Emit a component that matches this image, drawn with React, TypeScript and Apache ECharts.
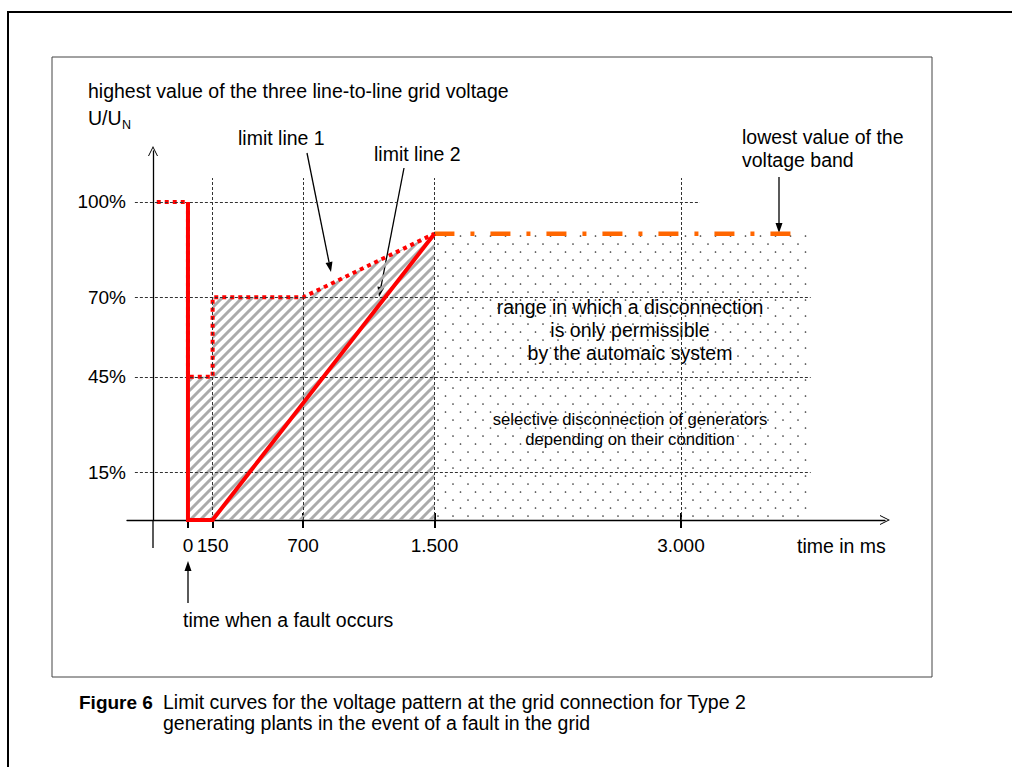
import React, { useEffect, useRef } from "react";
import * as echarts from "echarts";

// ---- data (time in ms, voltage in % of U_N) ----
const timeTicks = [0, 150, 700, 1500, 3000];
const voltageTicks = [15, 45, 70, 100];
const limitLine1: number[][] = [
  [-190, 100], [0, 100], [0, 45], [150, 45], [150, 70], [700, 70], [1500, 90],
];
const limitLine2: number[][] = [[0, 100], [0, 0], [150, 0], [1500, 90]];
const voltageBand: number[][] = [[1500, 90], [3725, 90]];
const automaticRange: number[][] = [[1500, 90], [3790, 90]];

const FONT = '"Liberation Sans", Arial, sans-serif';
const FS = 19.5;

function svgUrl(svg: string) {
  return "data:image/svg+xml;charset=utf-8," + encodeURIComponent(svg);
}

const hatchSvg =
  '<svg xmlns="http://www.w3.org/2000/svg" width="10" height="10">' +
  '<path d="M-5,5 L5,-5 M0,10 L10,0 M5,15 L15,5" stroke="#ababab" stroke-width="3"/></svg>';
const dotSvg =
  '<svg xmlns="http://www.w3.org/2000/svg" width="15" height="16">' +
  '<circle cx="3" cy="4" r="0.85" fill="#333"/><circle cx="10.5" cy="12" r="0.85" fill="#333"/></svg>';

function arrow(x1: number, y1: number, x2: number, y2: number, head = 10, half = 3.5) {
  const dx = x2 - x1, dy = y2 - y1;
  const L = Math.hypot(dx, dy);
  const ux = dx / L, uy = dy / L;
  const bx = x2 - ux * head, by = y2 - uy * head;
  const px = -uy, py = ux;
  return [
    { type: "line", silent: true, shape: { x1, y1, x2: bx, y2: by }, style: { stroke: "#000", lineWidth: 1.3 } },
    {
      type: "polygon", silent: true,
      shape: { points: [[x2, y2], [bx + px * half, by + py * half], [bx - px * half, by - py * half]] },
      style: { fill: "#000" },
    },
  ];
}

function txt(text: string, x: number, y: number, size = FS, align = "left", weight = "normal") {
  return {
    type: "text", silent: true,
    style: {
      text, x, y, fill: "#000",
      font: `${weight} ${size}px ${FONT}`,
      textAlign: align, textVerticalAlign: "middle",
      align, verticalAlign: "middle",
    },
  };
}

export default function App() {
  const ref = useRef<HTMLDivElement>(null);
  useEffect(() => {
    if (!ref.current) return;
    const chart = echarts.init(ref.current, null, { renderer: "svg" });

    const hatchData = limitLine1.filter(([t, v]) => t >= 0 && !(t === 0 && v === 100));
    const gridStyle = { color: "#333", width: 1, type: [3, 2] as any };
    const hLines = voltageTicks.map((v) => [
      { coord: [-323, v] },
      { coord: [v === 100 ? 3116 : 3790, v] },
    ]);
    const vLines = timeTicks.filter((t) => t > 0).map((t) => [
      { coord: [t, 0] },
      { coord: [t, 107.5] },
    ]);

    const chevron = "path://M0,10 L5,0 L10,10 L9,10 L5,2 L1,10 Z";
    const fmt = (v: number) =>
      v >= 1000 ? `${Math.floor(v / 1000)}.${String(v % 1000).padStart(3, "0")}` : String(v);

    const gridTop = 151, gridBottomPx = 520;

    chart.setOption({
      animation: false,
      textStyle: { fontFamily: FONT },
      grid: { left: 127, right: 127, top: gridTop, bottom: 767 - gridBottomPx, containLabel: false },
      xAxis: [
        {
          type: "value", min: -371, max: 4242,
          axisLine: { show: true, onZero: false, symbol: ["none", chevron], symbolSize: [11, 10], lineStyle: { color: "#000", width: 1.3 } },
          axisTick: { show: true, customValues: timeTicks, length: 8, lineStyle: { color: "#000", width: 2 } },
          axisLabel: {
            show: true, customValues: timeTicks, margin: 16, fontSize: 19, color: "#000", fontFamily: FONT,
            formatter: fmt,
          },
          splitLine: { show: false },
        },
        {
          type: "value", min: -371, max: 4242, position: "bottom",
          axisLine: { show: false, onZero: false },
          axisTick: { show: true, inside: true, customValues: timeTicks.filter((t) => t > 150), length: 7, lineStyle: { color: "#000", width: 2 } },
          axisLabel: { show: false },
          splitLine: { show: false },
        },
      ],
      yAxis: {
        type: "value", min: 0, max: 116, offset: -26,
        axisLine: { show: true, onZero: false, symbol: ["none", chevron], symbolSize: [11, 10], lineStyle: { color: "#000", width: 1.3 } },
        axisTick: { show: false },
        axisLabel: { show: true, customValues: voltageTicks, margin: 27, fontSize: 19, color: "#000", fontFamily: FONT, formatter: "{value}%" },
        splitLine: { show: false },
      },
      series: [
        {
          type: "line", data: hatchData, symbol: "none", silent: true, clip: false,
          lineStyle: { width: 0 },
          areaStyle: { origin: "auto", opacity: 1, color: { image: svgUrl(hatchSvg), imageWidth: 10, imageHeight: 10, repeat: "repeat" } },
          z: 1,
        },
        {
          type: "line", data: automaticRange, symbol: "none", silent: true, clip: false,
          lineStyle: { width: 0 },
          areaStyle: { origin: "auto", opacity: 1, color: { image: svgUrl(dotSvg), imageWidth: 15, imageHeight: 16, repeat: "repeat" } },
          z: 1,
        },
        {
          type: "line", data: [[0, 0]], symbol: "none", silent: true, lineStyle: { width: 0 }, z: 2,
          markLine: { silent: true, symbol: "none", label: { show: false }, lineStyle: gridStyle, data: [...hLines, ...vLines] },
        },
        {
          name: "voltage band", type: "line", data: voltageBand, symbol: "none", silent: true, z: 3, clip: false,
          lineStyle: { color: "#ff6600", width: 4.5, type: [20, 16, 4, 16], cap: "butt" },
        },
        {
          name: "limit line 1", type: "line", data: limitLine1, symbol: "none", silent: true, z: 4, clip: false,
          lineStyle: { color: "#ff0000", width: 4, type: [4, 4], cap: "butt" },
        },
        {
          name: "limit line 2", type: "line", data: limitLine2, symbol: "none", silent: true, z: 5, clip: false,
          lineStyle: { color: "#ff0000", width: 4, type: "solid", cap: "butt", join: "miter" },
        },
      ],
      graphic: [
        { type: "rect", silent: true, shape: { x: 8, y: 12, width: 1100, height: 900 }, style: { fill: "none", stroke: "#000", lineWidth: 2 } },
        { type: "rect", silent: true, shape: { x: 52, y: 57, width: 880, height: 620 }, style: { fill: "none", stroke: "#444", lineWidth: 1 } },
        // downward continuation of the vertical axis below the time axis
        { type: "line", silent: true, shape: { x1: 153, y1: gridBottomPx, x2: 153, y2: 548 }, style: { stroke: "#000", lineWidth: 1.3 } },
        txt("highest value of the three line-to-line grid voltage", 88, 91),
        txt("U/U", 88, 118),
        txt("N", 122, 125, 12.5),
        txt("limit line 1", 238, 138),
        txt("limit line 2", 374, 154),
        txt("lowest value of the", 742, 137),
        txt("voltage band", 742, 160),
        txt("range in which a disconnection", 630, 307, FS, "center"),
        txt("is only permissible", 630, 330, FS, "center"),
        txt("by the automaic system", 630, 353, FS, "center"),
        txt("selective disconnection of generators", 630, 419, 16.7, "center"),
        txt("depending on their condition", 630, 439, 16.7, "center"),
        txt("time in ms", 797, 546),
        txt("time when a fault occurs", 183, 620),
        txt("Figure 6", 79, 702, 19, "left", "bold"),
        txt("Limit curves for the voltage pattern at the grid connection for Type 2", 163, 702),
        txt("generating plants in the event of a fault in the grid", 163, 723),
        ...arrow(307, 153, 331, 272),
        ...arrow(404, 168, 379, 297),
        ...arrow(779, 177, 779, 233),
        ...arrow(188, 603, 188, 561),
      ],
    });
    return () => chart.dispose();
  }, []);
  return (
    <div
      ref={ref}
      style={{ position: "absolute", left: 0, top: 0, width: 1012, height: 767, background: "#fff" }}
    />
  );
}
